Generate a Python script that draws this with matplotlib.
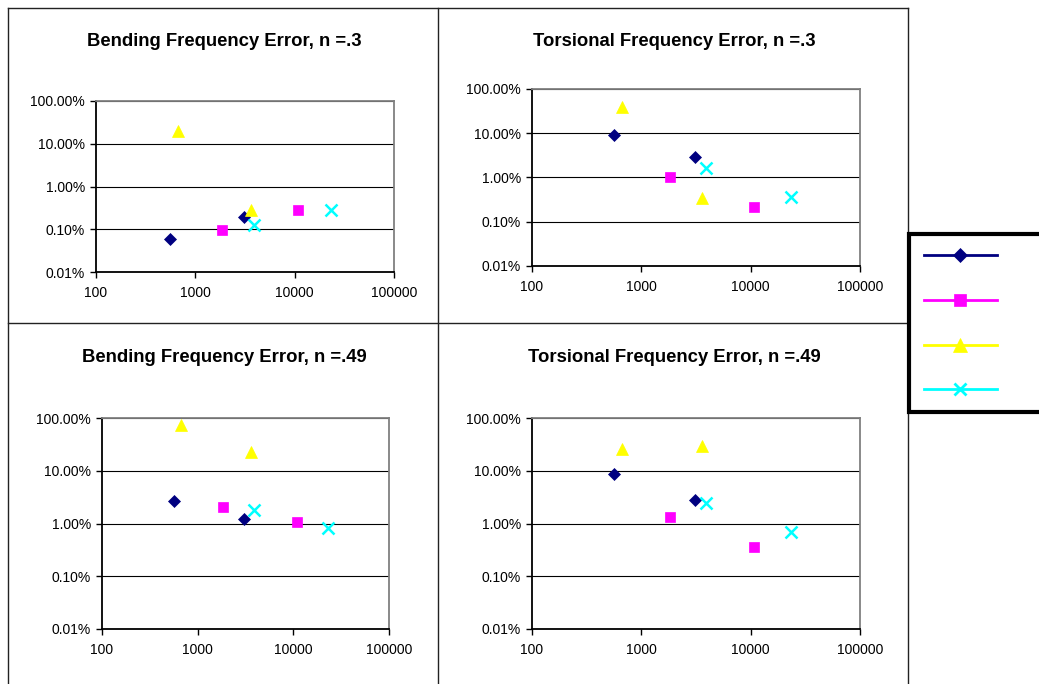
import matplotlib.pyplot as plt
from matplotlib.lines import Line2D
from matplotlib.ticker import FuncFormatter, FixedLocator, NullLocator

plt.rcParams['font.family'] = ['Liberation Sans', 'DejaVu Sans']

# x positions of the points (same in all four charts)
x_s1 = [560, 3070]
x_s2 = [1845, 10800]
x_s3 = [665, 3610]
x_s4 = [3900, 23300]

titles = ["Bending Frequency Error, n =.3", "Torsional Frequency Error, n =.3",
          "Bending Frequency Error, n =.49", "Torsional Frequency Error, n =.49"]

# errors as fractions, per chart
bend_03 = [[0.00060, 0.00194], [0.00094, 0.00287], [0.20, 0.0028], [0.00126, 0.00287]]
tors_03 = [[0.089, 0.029], [0.010, 0.0021], [0.40, 0.0035], [0.016, 0.0036]]
bend_049 = [[0.0267, 0.012], [0.0206, 0.0107], [0.75, 0.23], [0.0183, 0.0083]]
tors_049 = [[0.088, 0.0277], [0.0134, 0.00355], [0.26, 0.30], [0.0247, 0.0070]]

xs = [x_s1, x_s2, x_s3, x_s4]
panels = [bend_03, tors_03, bend_049, tors_049]

colors = ['#000080', '#FF00FF', '#FFFF00', '#00FFFF']
markers = ['D', 's', '^', 'x']
msizes = [6.5, 7.5, 8.5, 8]

W, H = 1039, 684
fig = plt.figure(figsize=(W / 100, H / 100), dpi=100)

def fx(px):
    return px / W

def fy(py):
    return 1 - py / H

# axes boxes in pixels (left, top, right, bottom)
boxes = [(96, 101, 394, 272), (532, 89, 860, 266), (102, 418, 389, 629), (532, 418, 860, 629)]
title_pos = [(224, 41), (674, 41), (224, 358), (674, 358)]

pct = FuncFormatter(lambda v, p: f"{v * 100:.2f}%")

for k in range(4):
    l, t, r, b = boxes[k]
    ax = fig.add_axes([fx(l), fy(b), fx(r) - fx(l), fy(t) - fy(b)])
    for i in range(4):
        ax.plot(xs[i], panels[k][i], linestyle='none', marker=markers[i], color=colors[i],
                markersize=msizes[i], markeredgewidth=1.8 if markers[i] == 'x' else 0.5,
                clip_on=False, zorder=3)
    ax.set_xscale('log')
    ax.set_yscale('log')
    ax.set_xlim(100, 100000)
    ax.set_ylim(0.0001, 1)
    ax.xaxis.set_major_locator(FixedLocator([100, 1000, 10000, 100000]))
    ax.yaxis.set_major_locator(FixedLocator([0.0001, 0.001, 0.01, 0.1, 1]))
    ax.xaxis.set_minor_locator(NullLocator())
    ax.yaxis.set_minor_locator(NullLocator())
    ax.xaxis.set_major_formatter(FuncFormatter(lambda v, p: f"{int(round(v))}"))
    ax.yaxis.set_major_formatter(pct)
    ax.tick_params(axis='x', direction='out', length=4, width=1, pad=6, labelsize=10)
    ax.tick_params(axis='y', direction='out', length=4, width=1, pad=4, labelsize=10)
    ax.grid(axis='y', color='black', linewidth=0.8)
    ax.set_axisbelow(True)
    for s in ['left', 'bottom']:
        ax.spines[s].set_color('black')
        ax.spines[s].set_linewidth(1.3)
    for s in ['top', 'right']:
        ax.spines[s].set_color('#808080')
        ax.spines[s].set_linewidth(1.3)
    tx, ty = title_pos[k]
    fig.text(fx(tx), fy(ty), titles[k], ha='center', va='center', fontsize=13.3, fontweight='bold')

# panel borders
border = dict(color='#222222', linewidth=1.0)
fig.add_artist(Line2D([fx(8), fx(908)], [fy(8), fy(8)], **border))
fig.add_artist(Line2D([fx(8), fx(908)], [fy(323), fy(323)], **border))
fig.add_artist(Line2D([fx(8), fx(8)], [fy(8), fy(684)], **border))
fig.add_artist(Line2D([fx(438), fx(438)], [fy(8), fy(684)], **border))
fig.add_artist(Line2D([fx(908), fx(908)], [fy(8), fy(684)], **border))

# legend without labels
handles = [Line2D([], [], color=colors[i], marker=markers[i], markersize=msizes[i] + 1,
                  linewidth=2, markeredgewidth=2 if markers[i] == 'x' else 0.5)
           for i in range(4)]
leg = fig.legend(handles, ['        '] * 4, loc='upper left',
                 bbox_to_anchor=(fx(909), fy(234)), fancybox=False, framealpha=1,
                 edgecolor='black', fontsize=10, handlelength=5.2, labelspacing=2.2,
                 borderpad=1.1, handletextpad=0.5, borderaxespad=0)
leg.get_frame().set_linewidth(3)

fig.savefig('out.png', dpi=100)
